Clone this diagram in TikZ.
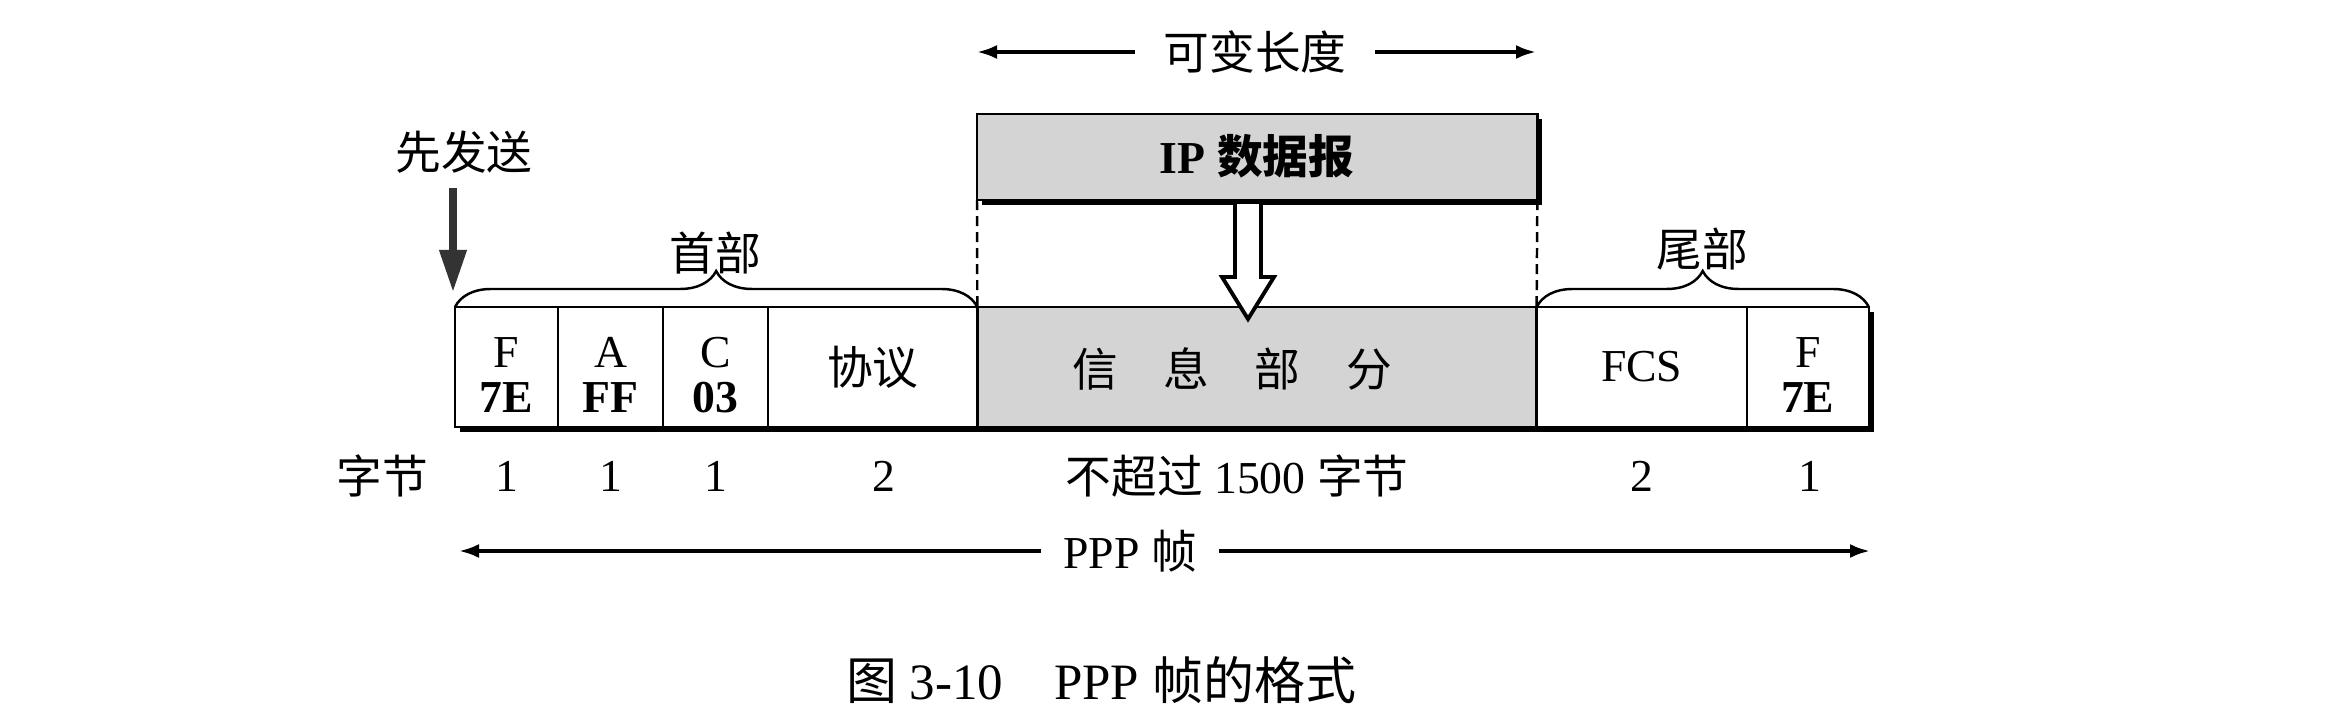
\documentclass[tikz,border=0pt]{standalone}
\usepackage{fontspec}
\setmainfont{Liberation Serif}
\newfontfamily\cjk{Noto Sans CJK SC}
\usetikzlibrary{arrows.meta,decorations.pathreplacing,shadows,calc}
\begin{document}
\begin{tikzpicture}[x=0.01cm,y=-0.01cm,
  lbl/.style={font=\fontsize{13}{15}\selectfont, inner sep=0pt},
  twoline/.style={lbl, align=center, font=\fontsize{13}{12.8}\selectfont},
  field/.style={draw, line width=0.7pt, fill=white, minimum height=1.2cm, inner sep=0pt, outer sep=0pt, anchor=north west,
    general shadow={fill=black, shadow xshift=1.4pt, shadow yshift=-1.4pt}},
  shaded/.style={fill=black!17},
  bracestyle/.style={line width=0.7pt, decorate, decoration={brace, amplitude=0.36cm}},
  dashline/.style={line width=0.7pt, dash pattern=on 0.1cm off 0.06cm},
  arr/.style={line width=1pt, -{Latex[length=0.2cm,width=0.14cm]}},
  hollow/.style={line width=1.1pt, fill=white, line join=miter}
]
\useasboundingbox (0,0) rectangle (2348,721);
\fill[white] (0,0) rectangle (2348,721);

% frame fields
\node[field, minimum width=1.03cm] (fF) at (455,307) {};
\node[field, minimum width=1.05cm] (fA) at (fF.north east) {};
\node[field, minimum width=1.05cm] (fC) at (fA.north east) {};
\node[field, minimum width=2.09cm] (fP) at (fC.north east) {};
\node[field, shaded, minimum width=5.59cm] (fI) at (fP.north east) {};
\node[field, minimum width=2.10cm] (fS) at (fI.north east) {};
\node[field, minimum width=1.22cm] (fE) at (fS.north east) {};

% field texts
\node[twoline] (tF) at ($(fF.center)+(0,8)$) {F\\\textbf{7E}};
\node[twoline] (tA) at ($(fA.center)+(0,8)$) {A\\\textbf{FF}};
\node[twoline] (tC) at ($(fC.center)+(0,8)$) {C\\\textbf{03}};
\node[lbl] (tP) at (fP.center) {\cjk 协议};
\node[lbl] (tI) at (1232,369) {\cjk 信\hspace{1em}息\hspace{1em}部\hspace{1em}分};
\node[lbl] (tS) at (fS.center) {FCS};
\node[twoline] (tE) at ($(fE.center)+(0,8)$) {F\\\textbf{7E}};

% IP datagram
\node[field, shaded, minimum width=5.6cm, minimum height=0.86cm] (ip) at (977,114) {};
\node[lbl] (ipt) at (1257,156) {\textbf{IP} {\cjk\bfseries 数据报}};
\draw[dashline] (ip.south west) -- (fI.north west);
\draw[dashline] (ip.south east) -- (fI.north east);
\draw[hollow] (1235,204) -- (1235,277) -- (1222,277) -- (1248,319) -- (1274,277) -- (1261,277) -- (1261,204);

% variable length
\node[lbl, inner xsep=0.28cm] (var) at (1255,52) {\cjk 可变长度};
\coordinate (varL) at (977,52);
\coordinate (varR) at (1536,52);
\draw[arr] (var.west) -- (varL);
\draw[arr] (var.east) -- (varR);

% braces
\draw[bracestyle] (fF.north west) -- (fP.north east);
\node[lbl] (hdr) at (715,253) {\cjk 首部};
\draw[bracestyle] (fS.north west) -- (fE.north east);
\node[lbl] (trl) at (1702,249) {\cjk 尾部};

% send first
\node[lbl] (send) at (464,152) {\cjk 先发送};
\coordinate (sendA) at (453,188);
\coordinate (sendB) at (453,292);
\draw[line width=2pt, black!80, -{Triangle[length=0.42cm,width=0.26cm]}] (sendA) -- (sendB);

% byte counts
\node[lbl] (bytes) at (382,476) {\cjk 字节};
\node[lbl] (n1) at (fF |- 0,476) {1};
\node[lbl] (n2) at (fA |- 0,476) {1};
\node[lbl] (n3) at (fC |- 0,476) {1};
\node[lbl] (n4) at (884,476) {2};
\node[lbl] (n5) at (1237,476) {{\cjk 不超过} 1500 {\cjk 字节}};
\node[lbl] (n6) at (fS |- 0,476) {2};
\node[lbl] (n7) at (1810,476) {1};

% PPP frame
\node[lbl, inner xsep=0.22cm] (ppp) at (1130,551) {PPP {\cjk 帧}};
\coordinate (pppL) at (459,551);
\coordinate (pppR) at (1870,551);
\draw[arr] (ppp.west) -- (pppL);
\draw[arr] (ppp.east) -- (pppR);

% caption
\node[lbl, font=\fontsize{14.5}{17}\selectfont] (cap) at (1101,680) {{\cjk 图} 3-10\hspace{1em}PPP {\cjk 帧的格式}};
\end{tikzpicture}
\end{document}
